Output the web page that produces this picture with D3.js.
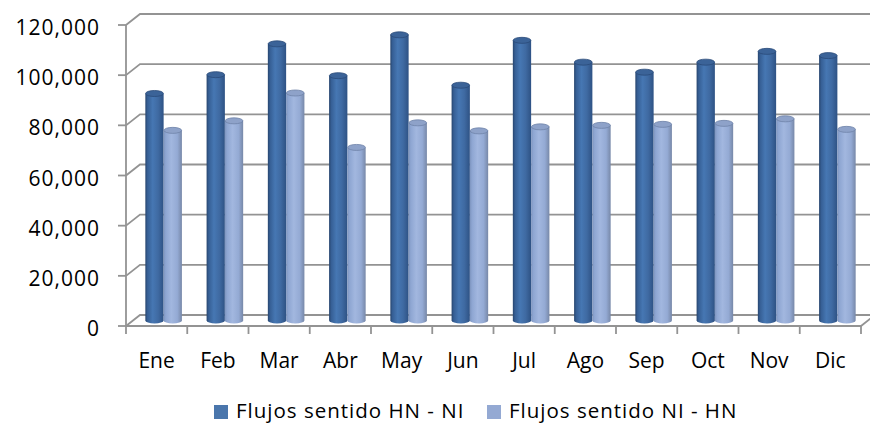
<!DOCTYPE html>
<html>
<head>
<meta charset="utf-8">
<script src="https://cdn.jsdelivr.net/npm/d3@7"></script>
<style>
  body { margin: 0; background: #fff; }
  svg { display: block; font-family: "Open Sans", sans-serif; }
</style>
</head>
<body>
<div class="graph"></div>
<script>
const months = ['Ene', 'Feb', 'Mar', 'Abr', 'May', 'Jun', 'Jul', 'Ago', 'Sep', 'Oct', 'Nov', 'Dic'];
const seriesNames = ['Flujos sentido HN - NI', 'Flujos sentido NI - HN'];
const hnNi = [90500, 98000, 110300, 97600, 113900, 93800, 111700, 103000, 99000, 103000, 107300, 105600];
const niHn = [75800, 79600, 90700, 69000, 78800, 75600, 77200, 77800, 78200, 78600, 80400, 76200];
const yTicks = [0, 20000, 40000, 60000, 80000, 100000, 120000];

var width = 870,
    height = 424;

// depth of the 3d box (back wall offset)
var depthX = 14,
    depthY = -11;

var svg = d3.select('.graph').append('svg')
    .attr('width', width)
    .attr('height', height);

var x = d3.scaleBand()
    .domain(months)
    .range([126, 861]);

var xs = d3.scaleBand()
    .domain(seriesNames)
    .range([0, x.bandwidth()])
    .paddingOuter(0.675);

var y = d3.scaleLinear()
    .domain([0, 120000])
    .range([326, 25]);

var defs = svg.append('defs');

function grad(id, stops) {
    var g = defs.append('linearGradient')
        .attr('id', id)
        .attr('x1', '0%').attr('x2', '100%')
        .attr('y1', '0%').attr('y2', '0%');
    stops.forEach(function (s) {
        g.append('stop').attr('offset', s[0]).attr('stop-color', s[1]);
    });
}
grad('gDark', [['0%', '#27456e'], ['12%', '#365f95'], ['40%', '#4677b3'], ['70%', '#3f6aa2'], ['100%', '#2e5284']]);
grad('gLight', [['0%', '#7d94be'], ['12%', '#8ea6d2'], ['42%', '#a2b7df'], ['75%', '#94aad4'], ['100%', '#7788a8']]);

var grid = svg.append('g')
    .attr('fill', 'none')
    .attr('stroke', '#939393')
    .attr('stroke-width', 1.8);

// gridlines: side wall + back wall
grid.selectAll('path.grid')
    .data(yTicks)
    .enter().append('path')
    .attr('class', 'grid')
    .attr('d', function (d) {
        var yy = y(d);
        return 'M' + x.range()[0] + ',' + yy +
            'L' + (x.range()[0] + depthX) + ',' + (yy + depthY) +
            'L' + (x.range()[1] + depthX) + ',' + (yy + depthY);
    });

// floor front edge and right edge
grid.append('path')
    .attr('d', 'M' + x.range()[0] + ',' + y(0) +
        'L' + x.range()[1] + ',' + y(0) +
        'L' + (x.range()[1] + depthX) + ',' + (y(0) + depthY));

// y axis line
grid.append('path')
    .attr('d', 'M' + x.range()[0] + ',' + y(120000) + 'L' + x.range()[0] + ',' + y(0));

// y ticks
grid.selectAll('line.yt')
    .data(yTicks)
    .enter().append('line')
    .attr('x1', x.range()[0] - 8).attr('x2', x.range()[0])
    .attr('y1', function (d) { return y(d); })
    .attr('y2', function (d) { return y(d); });

// x ticks
grid.selectAll('line.xt')
    .data(months.concat(['end']))
    .enter().append('line')
    .attr('x1', function (d, i) { return x.range()[0] + i * x.step(); })
    .attr('x2', function (d, i) { return x.range()[0] + i * x.step(); })
    .attr('y1', y(0))
    .attr('y2', y(0) + 8);

// y labels
svg.append('g')
    .selectAll('text')
    .data(yTicks)
    .enter().append('text')
    .attr('x', 100)
    .attr('y', function (d) { return y(d) + 10; })
    .attr('text-anchor', 'end')
    .attr('font-size', 21)
    .attr('letter-spacing', 1)
    .attr('fill', '#000')
    .text(function (d) { return d3.format(',')(d); });

// x labels
svg.append('g')
    .selectAll('text')
    .data(months)
    .enter().append('text')
    .attr('x', function (d) { return x(d) + x.bandwidth() / 2; })
    .attr('y', 368)
    .attr('text-anchor', 'middle')
    .attr('font-size', 21)
    .attr('fill', '#000')
    .text(function (d) { return d; });

// bars (cylinders), placed at mid depth
var rx = xs.bandwidth() / 2,
    ry = 3;

var series = [
    { name: seriesNames[0], values: hnNi, fill: 'url(#gDark)', top: '#3b6398', edge: '#2a4a78' },
    { name: seriesNames[1], values: niHn, fill: 'url(#gLight)', top: '#8ea2c9', edge: '#6f83a8' }
];

var bars = svg.append('g');

months.forEach(function (m, i) {
    series.forEach(function (s) {
        var x0 = x(m) + xs(s.name) + depthX / 2,
            x1 = x0 + xs.bandwidth(),
            yb = y(0) + depthY / 2,
            yt = y(s.values[i]) + depthY / 2;
        bars.append('path')
            .attr('d', 'M' + x0 + ',' + yt + 'L' + x0 + ',' + yb +
                'A' + rx + ',' + ry + ' 0 0 0 ' + x1 + ',' + yb +
                'L' + x1 + ',' + yt + 'Z')
            .attr('fill', s.fill);
        bars.append('ellipse')
            .attr('cx', x0 + rx)
            .attr('cy', yt)
            .attr('rx', rx - 0.3)
            .attr('ry', ry)
            .attr('fill', s.top)
            .attr('stroke', s.edge)
            .attr('stroke-width', 0.8);
    });
});

// legend
var legendX = [214, 487];
var legendColors = ['#4a76ac', '#94a9d3'];
var legend = svg.append('g');
seriesNames.forEach(function (n, i) {
    legend.append('rect')
        .attr('x', legendX[i]).attr('y', 405)
        .attr('width', 14).attr('height', 14)
        .attr('fill', legendColors[i]);
    legend.append('text')
        .attr('x', legendX[i] + 22)
        .attr('y', 418)
        .attr('font-size', 20.5)
        .attr('letter-spacing', 1)
        .attr('fill', '#000')
        .text(n);
});
</script>
</body>
</html>
